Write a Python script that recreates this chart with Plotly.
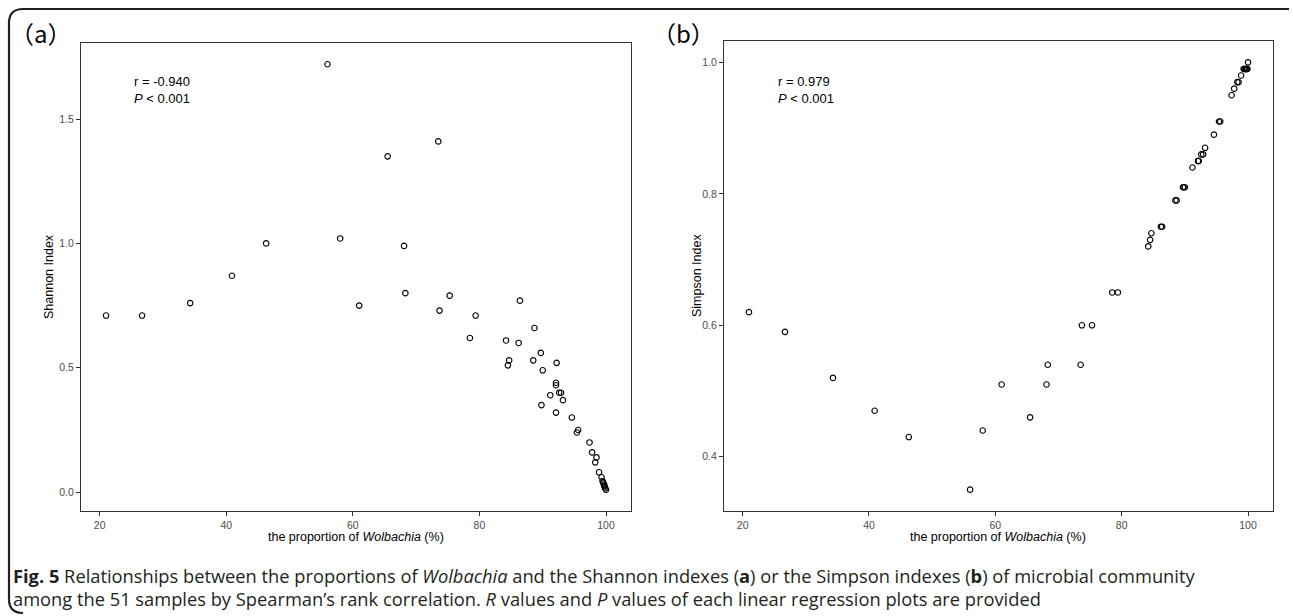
import plotly.graph_objects as go

# Proportion of Wolbachia (%) in each of the 51 samples
wolbachia_pct = [
    21.0, 26.7, 34.3, 40.9, 46.3, 56.0, 58.0, 61.0, 65.5, 68.1,
    68.3, 73.5, 73.7, 75.3, 78.5, 79.4, 84.2, 84.5, 84.7, 86.2,
    86.4, 88.5, 88.7, 89.7, 89.8, 90.0, 91.2, 92.1, 92.1, 92.1,
    92.2, 92.6, 92.9, 93.2, 94.6, 95.4, 95.6, 97.4, 97.8, 98.3,
    98.5, 98.9, 99.3, 99.45, 99.55, 99.6, 99.7, 99.75, 99.8, 99.9,
    100.0,
]

# Shannon index of each sample
shannon = [
    0.71, 0.71, 0.76, 0.87, 1.00, 1.72, 1.02, 0.75, 1.35, 0.99,
    0.80, 1.41, 0.73, 0.79, 0.62, 0.71, 0.61, 0.51, 0.53, 0.60,
    0.77, 0.53, 0.66, 0.56, 0.35, 0.49, 0.39, 0.44, 0.43, 0.32,
    0.52, 0.40, 0.40, 0.37, 0.30, 0.24, 0.25, 0.20, 0.16, 0.12,
    0.14, 0.08, 0.06, 0.045, 0.04, 0.035, 0.03, 0.025, 0.02, 0.015,
    0.01,
]

# Simpson index of each sample
simpson = [
    0.62, 0.59, 0.52, 0.47, 0.43, 0.35, 0.44, 0.51, 0.46, 0.51,
    0.54, 0.54, 0.60, 0.60, 0.65, 0.65, 0.72, 0.73, 0.74, 0.75,
    0.75, 0.79, 0.79, 0.81, 0.81, 0.81, 0.84, 0.85, 0.85, 0.85,
    0.85, 0.86, 0.86, 0.87, 0.89, 0.91, 0.91, 0.95, 0.96, 0.97,
    0.97, 0.98, 0.99, 0.99, 0.99, 0.99, 0.99, 0.99, 0.99, 0.99,
    1.00,
]

x_ticks = [20, 40, 60, 80, 100]
shannon_ticks = [0.0, 0.5, 1.0, 1.5]
simpson_ticks = [0.4, 0.6, 0.8, 1.0]

W, H = 1293, 616


def expanded(values, frac=0.05):
    lo, hi = min(values), max(values)
    pad = (hi - lo) * frac
    return [lo - pad, hi + pad]


def px(v):
    return v / W


def py(v):
    return 1 - v / H


marker = dict(symbol="circle-open", size=5.5, color="#000000",
              line=dict(width=1.1, color="#000000"))

fig = go.Figure()
fig.add_trace(go.Scatter(x=wolbachia_pct, y=shannon, mode="markers",
                         marker=marker, xaxis="x", yaxis="y",
                         showlegend=False, hoverinfo="x+y"))
fig.add_trace(go.Scatter(x=wolbachia_pct, y=simpson, mode="markers",
                         marker=marker, xaxis="x2", yaxis="y2",
                         showlegend=False, hoverinfo="x+y"))

tick_font = dict(family="Liberation Sans, Arial, sans-serif", size=10.5, color="#4D4D4D")
axis_common = dict(showline=True, mirror=True, linecolor="#333333", linewidth=1.2,
                   ticks="outside", ticklen=4, tickwidth=1, tickcolor="#333333",
                   showgrid=False, zeroline=False, tickfont=tick_font)

fig.update_layout(
    width=W, height=H,
    margin=dict(l=0, r=0, t=0, b=0),
    paper_bgcolor="white", plot_bgcolor="white",
    xaxis=dict(domain=[px(81), px(631)], range=expanded(wolbachia_pct),
               tickvals=x_ticks, anchor="y", **axis_common),
    yaxis=dict(domain=[py(511), py(43)], range=expanded(shannon),
               tickvals=shannon_ticks, tickformat=".1f", anchor="x", **axis_common),
    xaxis2=dict(domain=[px(724), px(1273)], range=expanded(wolbachia_pct),
                tickvals=x_ticks, anchor="y2", **axis_common),
    yaxis2=dict(domain=[py(511), py(41)], range=expanded(simpson),
                tickvals=simpson_ticks, tickformat=".1f", anchor="x2", **axis_common),
)

label_font = dict(family="Liberation Sans, Arial, sans-serif", size=12.5, color="#000000")
ann = []
# axis titles
ann.append(dict(text="the proportion of <i>Wolbachia</i> (%)", x=px(356), y=py(537),
                xref="paper", yref="paper", showarrow=False, font=label_font,
                xanchor="center", yanchor="middle"))
ann.append(dict(text="the proportion of <i>Wolbachia</i> (%)", x=px(998), y=py(537),
                xref="paper", yref="paper", showarrow=False, font=label_font,
                xanchor="center", yanchor="middle"))
ann.append(dict(text="Shannon Index", x=px(49), y=py(277), textangle=-90,
                xref="paper", yref="paper", showarrow=False, font=label_font,
                xanchor="center", yanchor="middle"))
ann.append(dict(text="Simpson Index", x=px(697), y=py(276), textangle=-90,
                xref="paper", yref="paper", showarrow=False, font=label_font,
                xanchor="center", yanchor="middle"))
# correlation statistics
stat_font = dict(family="Liberation Sans, Arial, sans-serif", size=13, color="#000000")
ann.append(dict(text="r = -0.940<br><i>P</i> < 0.001", x=px(132), y=py(72),
                xref="paper", yref="paper", showarrow=False, font=stat_font,
                xanchor="left", yanchor="top", align="left"))
ann.append(dict(text="r = 0.979<br><i>P</i> < 0.001", x=px(776), y=py(72),
                xref="paper", yref="paper", showarrow=False, font=stat_font,
                xanchor="left", yanchor="top", align="left"))
# panel letters
panel_font = dict(family="Noto Sans CJK SC, Liberation Sans, sans-serif", size=24, color="#000000")
ann.append(dict(text="（a）", x=px(8), y=py(32), xref="paper", yref="paper",
                showarrow=False, font=panel_font, xanchor="left", yanchor="middle"))
ann.append(dict(text="（b）", x=px(650), y=py(32), xref="paper", yref="paper",
                showarrow=False, font=panel_font, xanchor="left", yanchor="middle"))
# figure caption, two lines
cap_font = dict(family="Open Sans, sans-serif", size=18.3, color="#231F20")
caption_1 = ("<b>Fig. 5</b> Relationships between the proportions of <i>Wolbachia</i> and the "
             "Shannon indexes (<b>a</b>) or the Simpson indexes (<b>b</b>) of microbial community")
caption_2 = ("among the 51 samples by Spearman’s rank correlation. <i>R</i> values and "
             "<i>P</i> values of each linear regression plots are provided")
ann.append(dict(text=caption_1, x=px(11), y=py(575), xref="paper", yref="paper",
                showarrow=False, xanchor="left", yanchor="middle", align="left",
                font=cap_font))
ann.append(dict(text=caption_2, x=px(11), y=py(598), xref="paper", yref="paper",
                showarrow=False, xanchor="left", yanchor="middle", align="left",
                font=cap_font))
fig.update_layout(annotations=ann)

# rounded outer frame (top and left edges)
x0, x1, y0, y1, r = 9, 1291, 9, 613, 14
path = (f"M {px(x1 - 2)},{py(y0)} L {px(x0 + r)},{py(y0)} "
        f"Q {px(x0)},{py(y0)} {px(x0)},{py(y0 + r)} "
        f"L {px(x0)},{py(y1 - r)} "
        f"Q {px(x0)},{py(y1)} {px(x0 + r)},{py(y1)}")
fig.add_shape(type="path", path=path, xref="paper", yref="paper",
              line=dict(color="#231F20", width=2.2))

fig.write_html("out.html")
